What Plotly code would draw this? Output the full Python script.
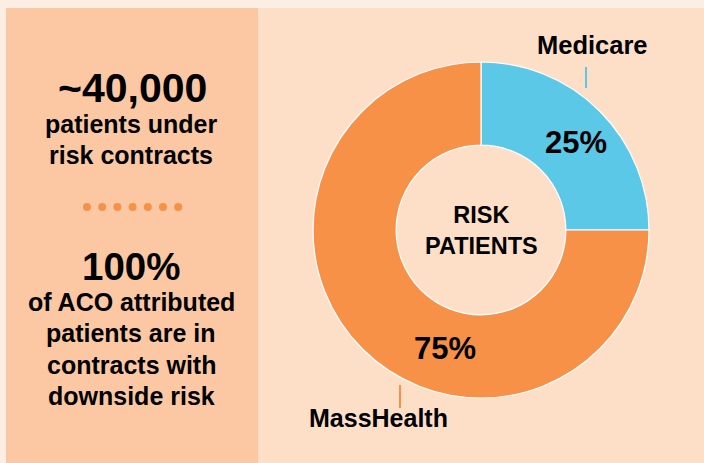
import plotly.graph_objects as go

labels = ["Medicare", "MassHealth"]
values = [25, 75]
colors = ["#5BC8E8", "#F79148"]
pct_text = ["25%", "75%"]
center_text = "RISK<br>PATIENTS"
stat1_big = "~40,000"
stat1_lines = ["patients under", "risk contracts"]
stat2_big = "100%"
stat2_lines = ["of ACO attributed", "patients are in", "contracts with", "downside risk"]

W, H = 704, 463
FONT = "Liberation Sans, Arial, sans-serif"


def px(x):
    return x / W


def py(y):
    return 1 - y / H


cx, cy, R = 481, 230, 168
fig = go.Figure(go.Pie(
    labels=labels, values=values, hole=0.505, sort=False, direction="clockwise",
    rotation=0, marker=dict(colors=colors, line=dict(color="white", width=1.2)),
    textinfo="none", hoverinfo="label+percent", showlegend=False,
    domain=dict(x=[px(cx - R), px(cx + R)], y=[py(cy + R), py(cy - R)]),
))

shapes = [
    dict(type="rect", xref="paper", yref="paper", x0=px(6), x1=px(258), y0=0, y1=py(8),
         fillcolor="#FCC8A3", line=dict(width=0), layer="below"),
    dict(type="rect", xref="paper", yref="paper", x0=px(258), x1=1, y0=0, y1=py(8),
         fillcolor="#FDDFC8", line=dict(width=0), layer="below"),
    dict(type="line", xref="paper", yref="paper", x0=px(586), x1=px(586), y0=py(67), y1=py(88),
         line=dict(color="#5BC8E8", width=2)),
    dict(type="line", xref="paper", yref="paper", x0=px(400), x1=px(400), y0=py(385), y1=py(408),
         line=dict(color="#F79148", width=2)),
]
for i in range(7):
    x = 87 + i * 15.2
    shapes.append(dict(type="circle", xref="paper", yref="paper",
                       x0=px(x - 4), x1=px(x + 4), y0=py(211), y1=py(203),
                       fillcolor="#F79148", line=dict(width=0)))

ann = []


def add(text, x, y, size, bold=True):
    t = f"<b>{text}</b>" if bold else text
    ann.append(dict(text=t, x=px(x), y=py(y), xref="paper", yref="paper",
                    showarrow=False, xanchor="center", yanchor="middle",
                    font=dict(family=FONT, size=size, color="#000000")))


add(stat1_big, 132, 88, 41)
for i, t in enumerate(stat1_lines):
    add(t, 131, 124 + i * 31, 25)
add(stat2_big, 131, 266, 38.5)
for i, t in enumerate(stat2_lines):
    add(t, 131, 302 + i * 31.3, 25)
add(center_text, cx, cy, 23.5)
add(pct_text[0], 576, 143, 31)
add(pct_text[1], 445, 348, 31)
add(labels[0], 592, 45, 25.5)
add(labels[1], 378, 418, 25)

fig.update_layout(width=W, height=H, margin=dict(l=0, r=0, t=0, b=0),
                  paper_bgcolor="#FDEEE4", plot_bgcolor="#FDEEE4",
                  shapes=shapes, annotations=ann)
fig.write_html("out.html", config={"displayModeBar": False},
               post_script="document.body.style.margin='0';document.body.style.padding='0';")
